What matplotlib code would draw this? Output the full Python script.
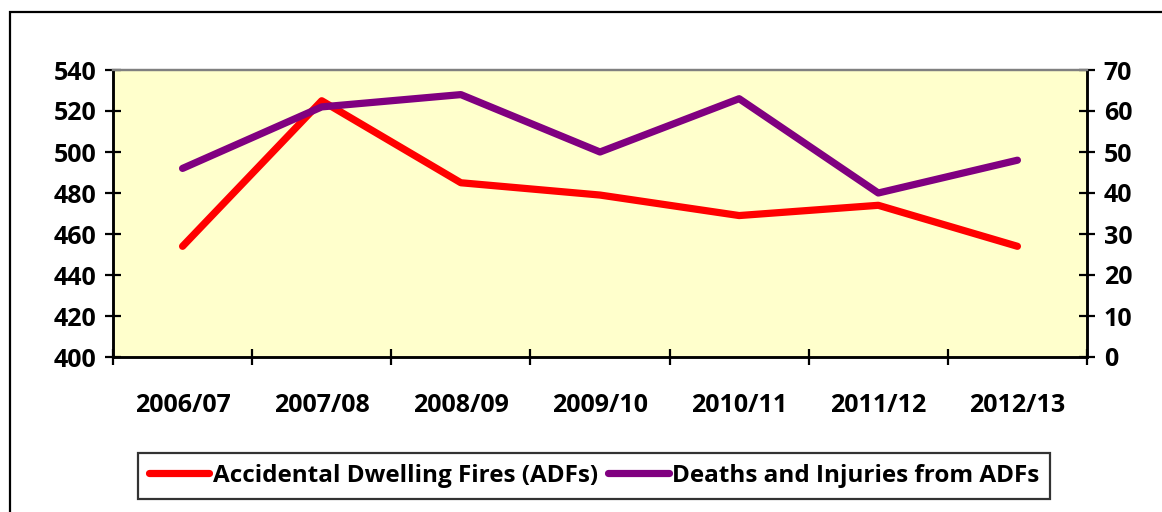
import matplotlib.pyplot as plt
from matplotlib.patches import Rectangle

# chart data
years = ["2006/07", "2007/08", "2008/09", "2009/10", "2010/11", "2011/12", "2012/13"]
adf_counts = [454, 525, 485, 479, 469, 474, 454]
deaths_injuries = [46, 61, 64, 50, 63, 40, 48]

plt.rcParams["font.family"] = ["Open Sans", "DejaVu Sans"]
plt.rcParams["font.weight"] = "bold"

fig = plt.figure(figsize=(11.62, 5.12), dpi=100)

# outer chart border
fig.patches.append(Rectangle((10 / 1162, -0.1), 1.2, 1 - 12 / 512 + 0.1,
                             transform=fig.transFigure, fill=False,
                             edgecolor="black", linewidth=1.6))

ax = fig.add_axes([113 / 1162, 1 - 357 / 512, 974 / 1162, 287 / 512])
ax.set_facecolor("#FFFFCC")
ax2 = ax.twinx()

x = list(range(len(years)))
l1, = ax.plot(x, adf_counts, color="#FF0000", linewidth=5.2,
              solid_capstyle="round", solid_joinstyle="round",
              label="Accidental Dwelling Fires (ADFs)")
l2, = ax2.plot(x, deaths_injuries, color="#800080", linewidth=5.2,
               solid_capstyle="round", solid_joinstyle="round",
               label="Deaths and Injuries from ADFs")

ax.set_xlim(-0.5, len(years) - 0.5)
ax.set_ylim(400, 540)
ax.set_yticks(range(400, 541, 20))
ax2.set_ylim(0, 70)
ax2.set_yticks(range(0, 71, 10))

fs = 18
ax.set_xticks(x)
ax.set_xticklabels(years, fontsize=fs, fontweight="bold")
ax.set_xticks([i - 0.5 for i in range(len(years) + 1)], minor=True)
ax.tick_params(axis="x", which="major", length=0, pad=26)
ax.tick_params(axis="x", which="minor", direction="inout", length=12, width=1.6)
ax.tick_params(axis="y", direction="inout", length=12, width=1.6, pad=6)
ax2.tick_params(axis="y", direction="inout", length=12, width=1.6, pad=6)
for lab in ax.get_yticklabels() + ax2.get_yticklabels():
    lab.set_fontsize(fs)
    lab.set_fontweight("bold")

for a in (ax, ax2):
    a.spines["top"].set_color("#808080")
    a.spines["top"].set_linewidth(1.6)
    for s in ("left", "right", "bottom"):
        a.spines[s].set_linewidth(1.8)
        a.spines[s].set_color("black")

leg = fig.legend(handles=[l1, l2], loc="center", ncol=2,
                 bbox_to_anchor=(594 / 1162, 1 - 476 / 512),
                 prop={"size": 17.5, "weight": "bold"}, frameon=True, fancybox=False,
                 handlelength=2.5, handletextpad=0.15, columnspacing=0.4,
                 borderpad=0.45, borderaxespad=0)
leg.get_frame().set_edgecolor("black")
leg.get_frame().set_linewidth(1.6)

fig.savefig("out.png", dpi=100)
